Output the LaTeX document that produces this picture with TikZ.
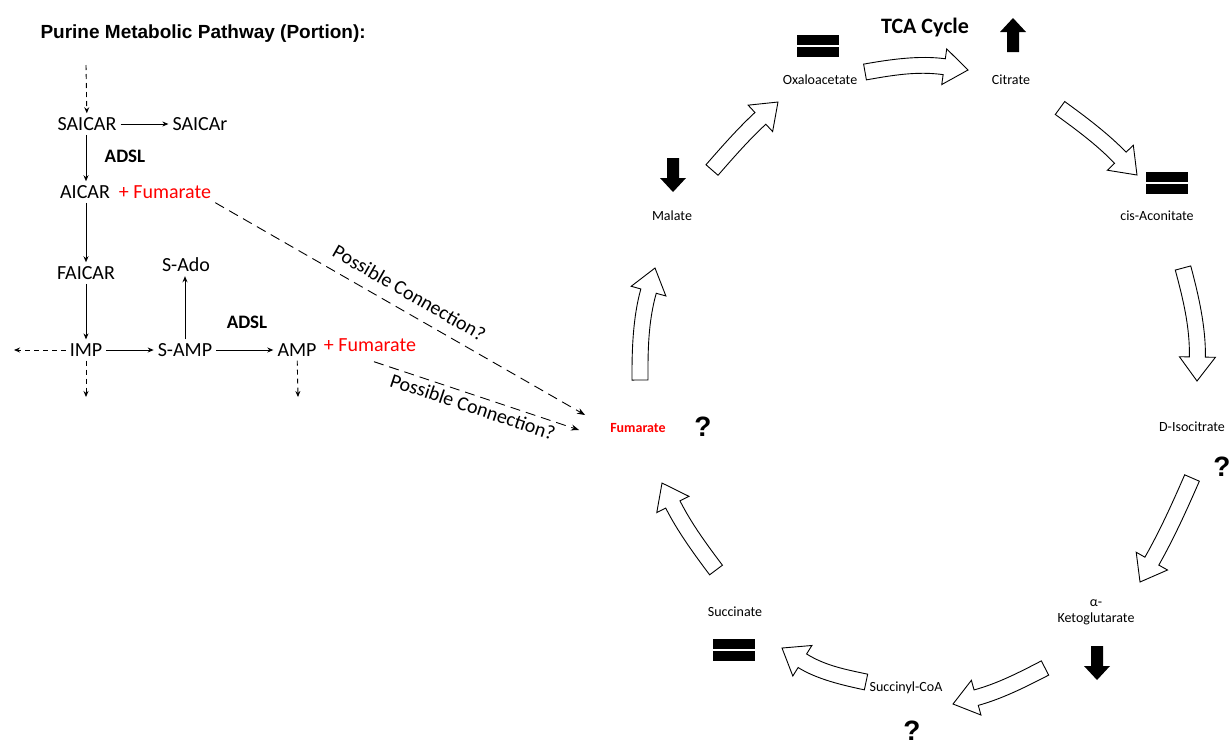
\documentclass[tikz,border=0pt]{standalone}
\usepackage{fontspec}
\setmainfont{Carlito}
\newfontfamily\arialfont{Liberation Sans}
\usetikzlibrary{arrows.meta,calc,positioning}

% hollow block arrow of the TCA cycle, from tail to tip, bent outwards by an angle
\newcommand{\cycarrow}[3][4]{%
  \path let \p1=(#2), \p2=(#3), \n1={veclen(\x2-\x1,\y2-\y1)}, \n2={atan2(\y2-\y1,\x2-\x1)}
    in pic[rotate=\n2] at (\p1) {hollow={\n1}{#1}};}

\begin{document}
\begin{tikzpicture}[x=1pt, y=-1pt, >=Stealth,
   met/.style={font=\fontsize{20}{23}\selectfont, inner sep=4pt},
   enz/.style={met, font=\fontsize{19}{22}\selectfont\bfseries},
   fum/.style={met, text=red},
   tca/.style={font=\fontsize{14}{16}\selectfont, inner sep=3pt},
   query/.style={font=\arialfont\bfseries\fontsize{28}{30}\selectfont},
   rxn/.style={-{Stealth[length=6pt,width=5pt]}, line width=0.9pt},
   side/.style={rxn, dash pattern=on 5pt off 4pt},
   maybe/.style={-{Stealth[length=8pt,width=6pt]}, line width=0.9pt, dash pattern=on 10pt off 6pt},
   pics/hollow/.style n args={2}{code={
     \pgfmathsetmacro\arrc{cos(#2)}
     \pgfmathsetmacro\arrs{sin(#2)}
     \pgfmathsetmacro\arrbx{#1-24*\arrc}
     \pgfmathsetmacro\arrby{-24*\arrs}
     \pgfmathsetmacro\arrk{(#1-24)/3}
     \draw[line width=0.9pt, fill=white, line join=miter]
       (8*\arrs,8*\arrc)
       .. controls (8*\arrs+\arrk*\arrc,8*\arrc-\arrk*\arrs) and (\arrbx-8*\arrs-\arrk*\arrc,\arrby+8*\arrc-\arrk*\arrs) ..
       (\arrbx-8*\arrs,\arrby+8*\arrc) -- (\arrbx-18*\arrs,\arrby+18*\arrc) -- (#1,0)
       -- (\arrbx+18*\arrs,\arrby-18*\arrc) -- (\arrbx+8*\arrs,\arrby-8*\arrc)
       .. controls (\arrbx+8*\arrs-\arrk*\arrc,\arrby-8*\arrc-\arrk*\arrs) and (-8*\arrs+\arrk*\arrc,-8*\arrc-\arrk*\arrs) ..
       (-8*\arrs,-8*\arrc) -- cycle;}},
   pics/level/.style={code={
     \fill (0,-6) -- (20,-6) -- (20,-13) -- (34,0) -- (20,13) -- (20,6) -- (0,6) -- cycle;}},
   pics/same/.style={code={
     \fill (-21,-11) rectangle (21,-1);
     \fill (-21,1) rectangle (21,11);}}]
   \useasboundingbox (0,0) rectangle (1230,748);

   % purine pathway
   \node (title) at (37,34) [anchor=west, font=\arialfont\bfseries\fontsize{19}{22}\selectfont] {Purine Metabolic Pathway (Portion):};
   \coordinate (in) at (86,65);
   \node (saicar) at (87,124) [met] {SAICAR};
   \node (saicarr) at (200,124) [met] {SAICAr};
   \node (adsla) at (125,156) [enz] {ADSL};
   \node (aicar) at (85,192) [met] {AICAR};
   \node (fuma) at (165,192) [fum] {+ Fumarate};
   \node (faicar) at (86,273) [met] {FAICAR};
   \node (imp) at (86,350) [met] {IMP};
   \coordinate (impleft) at (14,350);
   \coordinate (impdown) at (86,397);
   \node (samp) at (185,350) [met] {S-AMP};
   \node (sado) at (186,265) [met] {S-Ado};
   \node (adslb) at (247,322) [enz] {ADSL};
   \node (amp) at (297,350) [met] {AMP};
   \node (fumb) at (370,345) [fum] {+ Fumarate};
   \coordinate (ampdown) at (298,397);

   \draw[side] (in) -- (saicar);
   \draw[rxn] (saicar) -- (saicarr);
   \draw[rxn] (saicar.south -| in) -- (aicar.north -| in);
   \draw[rxn] (aicar.south -| in) -- (faicar);
   \draw[rxn] (faicar) -- (imp);
   \draw[side] (imp) -- (impleft);
   \draw[side] (imp) -- (impdown);
   \draw[rxn] (imp) -- (samp);
   \draw[rxn] (samp.north -| 185,0) -- (sado.south -| 185,0);
   \draw[rxn] (samp) -- (amp);
   \draw[side] (amp) -- (ampdown);

   % TCA cycle
   \node (tcatitle) at (925,28) [font=\fontsize{22}{24}\selectfont\bfseries] {TCA Cycle};
   \node (oxalo) at (820,80) [tca] {Oxaloacetate};
   \node (citrate) at (1011,80) [tca] {Citrate};
   \node (cisacon) at (1157,216) [tca] {cis-Aconitate};
   \node (isocit) at (1192,427) [tca] {D-Isocitrate};
   \node (akg) at (1096,612) [tca, align=center] {α-\\Ketoglutarate};
   \node (succoa) at (906,688) [tca] {Succinyl-CoA};
   \node (succ) at (735,612) [tca] {Succinate};
   \node (fumtca) at (638,428) [tca, text=red, font=\fontsize{14}{16}\selectfont\bfseries] {Fumarate};
   \node (malate) at (672,216) [tca] {Malate};

   \draw[maybe] (fuma.south east) -- node[sloped, above=7pt, met, pos=0.5] {Possible Connection?} ([shift={(-22,-13)}]fumtca.west);
   \draw[maybe] ([shift={(4,6)}]fumb.south) -- node[sloped, below, met] {Possible Connection?} ([shift={(-28,2)}]fumtca.west);

   \coordinate (m-out) at (712,170);   \coordinate (o-in) at (778,102);
   \coordinate (o-out) at (865,72);    \coordinate (c-in) at (968,70);
   \coordinate (c-out) at (1060,108);  \coordinate (a-in) at (1137,175);
   \coordinate (a-out) at (1183,268);  \coordinate (i-in) at (1197,381);
   \coordinate (i-out) at (1192,478);  \coordinate (k-in) at (1140,582);
   \coordinate (k-out) at (1045,668);  \coordinate (s-in) at (953,704);
   \coordinate (s-out) at (866,682);   \coordinate (u-in) at (782,648);
   \coordinate (u-out) at (716,570);   \coordinate (f-in) at (662,483);
   \coordinate (f-out) at (640,380);   \coordinate (ml-in) at (655,268);
   \cycarrow[3]{m-out}{o-in}
   \cycarrow[9]{o-out}{c-in}
   \cycarrow[5]{c-out}{a-in}
   \cycarrow[8]{a-out}{i-in}
   \cycarrow[3]{i-out}{k-in}
   \cycarrow[6]{k-out}{s-in}
   \cycarrow[10]{s-out}{u-in}
   \cycarrow[5]{u-out}{f-in}
   \cycarrow[8]{f-out}{ml-in}

   % levels
   \pic[rotate=90] at (1013,52) {level};
   \pic[rotate=-90] at (673,158) {level};
   \pic[rotate=-90] at (1097,646) {level};
   \pic at (818,46) {same};
   \pic at (1167,183) {same};
   \pic at (734,650) {same};
   \node (qfum) at (703,427) [query] {?};
   \node (qiso) at (1222,467) [query] {?};
   \node (qsuc) at (912,731) [query] {?};
\end{tikzpicture}
\end{document}
